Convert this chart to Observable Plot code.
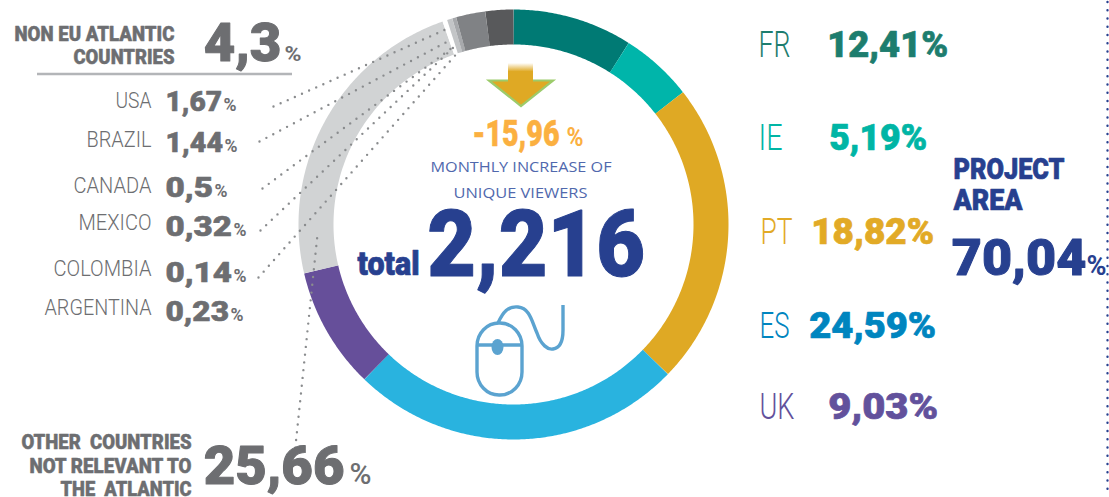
<!DOCTYPE html>
<html><head><meta charset="utf-8">
<style>html,body{margin:0;padding:0;background:#fff}svg{display:block}</style>
<script src="https://cdn.jsdelivr.net/npm/d3@7"></script>
<script src="https://cdn.jsdelivr.net/npm/@observablehq/plot@0.6"></script>
</head><body><div id="chart"></div>
<script>
// Ring slices, clockwise from 12 o'clock (% of the circle)
const sliceNames = ["FR","IE","PT","ES","UK","Other","Gap","Small","Minor","Brazil","USA"];
const sliceShares = [9.0,5.45,22.8,24.95,9.15,23.3,0.35,0.4,0.3,2.2,2.1];
const sliceColors = ["#007a74","#00b5aa","#dfa924","#29b3df","#664f9a","#d1d3d4","#ffffff","#c3c5c7","#a7a9ac","#808285","#58595b"];

// Printed labels
const projectCodes = ["FR","IE","PT","ES","UK"];
const projectValues = ["12,41%","5,19%","18,82%","24,59%","9,03%"];
const projectColors = ["#1d7d6e","#00b5a5","#e2aa26","#0085bf","#62519c"];
const atlanticCountries = ["USA","BRAZIL","CANADA","MEXICO","COLOMBIA","ARGENTINA"];
const atlanticValues = ["1,67","1,44","0,5","0,32","0,14","0,23"];

// Layout
const cx = 513, cy = 224, rOuter = 215, rInner = 180;
const HEAVY = "Roboto", THIN = "Roboto";
const GREY = "#6d6e71", NAVY = "#27408f";
const atlanticY = [107,146,192,229,275,314];
const atlanticValueY = [110,151,196,235,281,320];
const atlanticValueEnd = [221,222,212,231,231,228];
const projectY = [56,149,243,337,418];
const projectCodeX = [[758,790],[758,782],[760,792],[759,789],[759,794]];
const projectValueX = [[828,947],[830,926],[812,933],[810,935],[829,937]];

const labels = [];
// text, x0, x1, baseline, font size, weight, family, colour, outline
const add = (text,x0,x1,y,size,weight,family,color,outline=0) => {
  // digits carry side bearings: widen the fit so the ink lands on the measured extent
  const bearing = /^[0-9]/.test(text) ? size*0.035 : 0;
  labels.push({text,x0:x0-bearing,x1:x1+bearing*0.5,y,size,weight,family,color,outline});
};

add("NON EU ATLANTIC",14,174,40,21,900,HEAVY,GREY,0.5);
add("COUNTRIES",73,174,63,21,900,HEAVY,GREY,0.5);
add("4,3",205,280,60,53,900,HEAVY,GREY,1);
add("%",284,301,60,21,700,HEAVY,GREY);
atlanticCountries.forEach((c,i)=>{
  add(c,[115,86,73,78,53,44][i],151,atlanticY[i],22,300,THIN,GREY);
  add(atlanticValues[i],166,atlanticValueEnd[i],atlanticValueY[i],28,900,HEAVY,GREY,0.6);
  add("%",atlanticValueEnd[i]+2,atlanticValueEnd[i]+15,atlanticValueY[i],19,700,HEAVY,GREY);
});
add("OTHER  COUNTRIES",21,191,448,21,900,HEAVY,GREY,0.5);
add("NOT RELEVANT TO",29,191,472,21,900,HEAVY,GREY,0.5);
add("THE  ATLANTIC",60,191,495,21,900,HEAVY,GREY,0.5);
add("25,66",205,343,483,53,900,HEAVY,GREY,1);
add("%",349,371,483,30,500,HEAVY,GREY);
projectCodes.forEach((c,i)=>{
  add(c,projectCodeX[i][0],projectCodeX[i][1],projectY[i],36,300,THIN,projectColors[i]);
  add(projectValues[i],projectValueX[i][0],projectValueX[i][1],projectY[i],36,900,HEAVY,projectColors[i],0.7);
});
add("PROJECT",953,1064,178,29,900,HEAVY,NAVY,0.7);
add("AREA",953,1022,209,29,900,HEAVY,NAVY,0.7);
add("70,04",953,1085,274,50,900,HEAVY,NAVY,1);
add("%",1086,1106,274,28,700,HEAVY,NAVY);
add("-15,96",472,559,145,36,900,HEAVY,"#fbb040",0.5);
add("%",566,583,145,26,700,HEAVY,"#fbb040");
add("MONTHLY INCREASE OF",430,611,171,15,400,"Open Sans","#5068ad");
add("UNIQUE VIEWERS",453,587,197,15,400,"Open Sans","#5068ad");
add("total",357,419,274,33,900,HEAVY,NAVY,0.7);
add("2,216",430,643,275,92,900,HEAVY,NAVY,1);

// Build the ring polylines from the shares
let cum = 0;
const ringPts = [];
sliceNames.forEach((name,i)=>{
  const a0 = cum/100*360, a1 = (cum+sliceShares[i])/100*360;
  cum += sliceShares[i];
  const n = Math.max(2,Math.ceil((a1-a0)/0.5)+1);
  d3.range(n).forEach(k=>{
    const a = (a0+(a1-a0)*k/(n-1))*Math.PI/180, r=(rOuter+rInner)/2;
    ringPts.push({name,x:cx+r*Math.sin(a),y:cy-r*Math.cos(a)});
  });
});

// Dotted leaders
const leaders = [
 {id:"USA",pts:[[273,106],[445,29]]},
 {id:"BRAZIL",pts:[[259,141],[449,40]]},
 {id:"CANADA",pts:[[262,188],[452,47]]},
 {id:"MEXICO",pts:[[260,230],[455,45]]},
 {id:"COLOMBIA",pts:[[258,277],[459,50]]},
 {id:"OTHER",pts:[[294,455],[317,234]]}
].flatMap(l=>l.pts.map(p=>({id:l.id,x:p[0],y:p[1]})));

const icons = (index,{x,y}) => {
  const g = d3.create("svg:g");
  const defs = g.append("defs");
  const grad = defs.append("linearGradient").attr("id","stemFade").attr("x1",0).attr("x2",0).attr("y1",0).attr("y2",1);
  grad.append("stop").attr("offset",0).attr("stop-color","#fff");
  grad.append("stop").attr("offset",0.45).attr("stop-color","#dfa924");
  grad.append("stop").attr("offset",1).attr("stop-color","#dfa924");
  g.append("path").attr("d","M489,80.5 L553,80.5 L521,106 Z").attr("fill","#dfa924").attr("stroke","#9ccb6b").attr("stroke-width",2.2).attr("stroke-linejoin","miter");
  g.append("rect").attr("x",508).attr("y",63).attr("width",25).attr("height",19).attr("fill","url(#stemFade)");
  const m = g.append("g").attr("fill","none").attr("stroke","#5ba3d0").attr("stroke-width",3.4);
  m.append("rect").attr("x",477).attr("y",323).attr("width",45).attr("height",72).attr("rx",22).attr("ry",23);
  m.append("path").attr("d","M477,345 H522");
  m.append("path").attr("d","M498,323 C503,312 508,306 518,307 C530,308 532,322 537,333 C541,345 548,350 553,349 C561,348 563,340 563,330 L563,305");
  g.append("ellipse").attr("cx",497.5).attr("cy",347).attr("rx",6).attr("ry",8).attr("fill","#5ba3d0");
  return g.node();
};

const plot = Plot.plot({
  width:1109,height:497,margin:0,
  x:{domain:[0,1109],range:[0,1109],axis:null},
  y:{domain:[0,497],range:[0,497],axis:null},
  color:{domain:sliceNames,range:sliceColors},
  marks:[
    Plot.line(ringPts,{x:"x",y:"y",z:"name",stroke:"name",strokeWidth:rOuter-rInner,strokeLinecap:"butt",strokeLinejoin:"round"}),
    Plot.line(leaders,{x:"x",y:"y",z:"id",stroke:"#8a8c8e",strokeWidth:2.4,strokeLinecap:"round",strokeDasharray:"0 7.8"}),
    Plot.ruleX([1107],{y1:2,y2:490,stroke:NAVY,strokeWidth:2.4,strokeLinecap:"round",strokeDasharray:"0 8.25"}),
    Plot.ruleY([73.5],{x1:37,x2:292,stroke:"#b3b5b8",strokeWidth:2.5}),
    icons,
    ...labels.map(l=>Plot.text([l],{x:"x0",y:"y",text:"text",textAnchor:"start",lineAnchor:"bottom",fontSize:l.size,fontWeight:l.weight,fontFamily:l.family,fill:l.color,stroke:l.outline?l.color:"none",strokeWidth:l.outline}))
  ]
});
// Fit every label to its measured width (the source type is condensed)
plot.querySelectorAll('g[aria-label="text"] text').forEach((t,i)=>{
  const l = labels[i];
  t.setAttribute("textLength",l.x1-l.x0);
  t.setAttribute("lengthAdjust","spacingAndGlyphs");
  t.style.whiteSpace="pre";
});
plot.style.opacity = 0.999;
document.getElementById("chart").append(plot);
</script></body></html>
